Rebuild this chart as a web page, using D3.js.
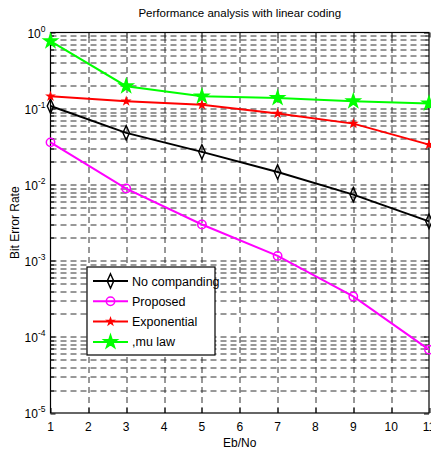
<!DOCTYPE html>
<html>
<head>
<meta charset="utf-8">
<script src="https://cdn.jsdelivr.net/npm/d3@7"></script>
<style>
  body { margin: 0; background: #fff; }
  text { font-family: "Liberation Sans", Arial, sans-serif; }
</style>
</head>
<body>
<div id="chart"></div>
<script>
const ebno = [1, 3, 5, 7, 9, 11];
const noCompanding = [0.108, 0.048, 0.027, 0.0147, 0.0074, 0.0033];
const proposed = [0.036, 0.0089, 0.0030, 0.00116, 0.00034, 0.000068];
const exponential = [0.145, 0.125, 0.112, 0.086, 0.0635, 0.0336];
const muLaw = [0.77, 0.197, 0.145, 0.138, 0.125, 0.117];
const seriesNames = ["No companding", "Proposed", "Exponential", ",mu law"];
const xTicks = [1, 2, 3, 4, 5, 6, 7, 8, 9, 10, 11];
const yDecades = [0, -1, -2, -3, -4, -5];

const W = 431, H = 451;
const margin = {top: 32.5, right: 2, bottom: 38, left: 50.5};
const width = W - margin.left - margin.right,
    height = H - margin.top - margin.bottom;

const svg = d3.select("#chart").append("svg")
    .attr("width", W)
    .attr("height", H);

const g = svg.append("g")
    .attr("transform", "translate(" + margin.left + "," + margin.top + ")");

const x = d3.scaleLinear().domain([1, 11]).range([0, width]);
const y = d3.scaleLog().domain([1e-5, 1]).range([height, 0]);

// minor + major log values
const yAll = [];
for (let e = -5; e < 0; e++) {
  for (let m = 1; m < 10; m++) yAll.push(m * Math.pow(10, e));
}
yAll.push(1);

// grid
const grid = g.append("g").attr("class", "grid");
grid.selectAll("line.h")
  .data(yAll.filter(v => v > 1e-5 && v < 1))
  .enter().append("line")
    .attr("x1", 0).attr("x2", width)
    .attr("y1", d => Math.round(y(d)) + 0.5).attr("y2", d => Math.round(y(d)) + 0.5)
    .attr("stroke", "#333").attr("stroke-width", 1)
    .attr("stroke-dasharray", "6,4");
grid.selectAll("line.v")
  .data(xTicks.slice(1, -1))
  .enter().append("line")
    .attr("x1", d => Math.round(x(d)) + 0.5).attr("x2", d => Math.round(x(d)) + 0.5)
    .attr("y1", height).attr("y2", 0)
    .attr("stroke", "#333").attr("stroke-width", 1)
    .attr("stroke-dasharray", "6,4");

// inward ticks
const ticks = g.append("g");
yAll.forEach(v => {
  const major = Math.abs(Math.log10(v) - Math.round(Math.log10(v))) < 1e-9;
  const len = major ? 5 : 3.5;
  const yy = Math.round(y(v)) + 0.5;
  ticks.append("line").attr("x1", 0).attr("x2", len).attr("y1", yy).attr("y2", yy).attr("stroke", "#000");
  ticks.append("line").attr("x1", width - len).attr("x2", width).attr("y1", yy).attr("y2", yy).attr("stroke", "#000");
});
xTicks.forEach(v => {
  const xx = Math.round(x(v)) + 0.5;
  ticks.append("line").attr("x1", xx).attr("x2", xx).attr("y1", height).attr("y2", height - 5).attr("stroke", "#000");
  ticks.append("line").attr("x1", xx).attr("x2", xx).attr("y1", 0).attr("y2", 5).attr("stroke", "#000");
});

// box
g.append("rect")
  .attr("x", 0).attr("y", 0).attr("width", width).attr("height", height)
  .attr("fill", "none").attr("stroke", "#000").attr("stroke-width", 1.2);

// x tick labels
g.append("g").selectAll("text")
  .data(xTicks)
  .enter().append("text")
    .attr("x", d => x(d))
    .attr("y", height + 18)
    .attr("text-anchor", "middle")
    .style("font-size", "12px")
    .text(d => d);

// y tick labels
const yl = g.append("g").selectAll("text")
  .data(yDecades)
  .enter().append("text")
    .attr("x", -5)
    .attr("y", d => y(Math.pow(10, d)) + 5)
    .attr("text-anchor", "end")
    .style("font-size", "12px");
yl.append("tspan").text("10");
yl.append("tspan").attr("dy", -6).style("font-size", "8.5px").text(d => d);

// titles
svg.append("text")
  .attr("x", margin.left + width / 2)
  .attr("y", 17)
  .attr("text-anchor", "middle")
  .style("font-size", "11.5px")
  .text("Performance analysis with linear coding");

svg.append("text")
  .attr("x", margin.left + width / 2)
  .attr("y", H - 4)
  .attr("text-anchor", "middle")
  .style("font-size", "12px")
  .text("Eb/No");

svg.append("text")
  .attr("transform", "translate(19," + (margin.top + height / 2) + ") rotate(-90)")
  .attr("text-anchor", "middle")
  .style("font-size", "12px")
  .text("Bit Error Rate");

// series
const series = [
  {name: seriesNames[0], values: noCompanding, color: "#000000", symbol: d3.symbolDiamond, size: 45, fill: "none"},
  {name: seriesNames[1], values: proposed, color: "#ff00ff", symbol: d3.symbolCircle, size: 55, fill: "none"},
  {name: seriesNames[2], values: exponential, color: "#ff0000", symbol: d3.symbolStar, size: 12, fill: "#ff0000"},
  {name: seriesNames[3], values: muLaw, color: "#00ff00", symbol: d3.symbolStar, size: 55, fill: "#00ff00"}
];

const line = d3.line().x((d, i) => x(ebno[i])).y(d => y(d));

series.forEach(s => {
  g.append("path")
    .datum(s.values)
    .attr("d", line)
    .attr("fill", "none")
    .attr("stroke", s.color)
    .attr("stroke-width", 2);
  g.append("g").selectAll("path")
    .data(s.values)
    .enter().append("path")
      .attr("d", d3.symbol().type(s.symbol).size(s.size))
      .attr("transform", (d, i) => "translate(" + x(ebno[i]) + "," + y(d) + ")" + (s.symbol === d3.symbolDiamond ? " scale(0.9,1.15)" : ""))
      .attr("fill", s.fill)
      .attr("stroke", s.color)
      .attr("stroke-width", 1.5);
});

// legend
const lg = svg.append("g").attr("transform", "translate(87,267)");
lg.append("rect")
  .attr("x", 0).attr("y", 0).attr("width", 128).attr("height", 88)
  .attr("fill", "#fff").attr("stroke", "#000").attr("stroke-width", 1.2);
series.forEach((s, i) => {
  const yy = 14 + i * 20.3;
  lg.append("line").attr("x1", 6).attr("x2", 41).attr("y1", yy).attr("y2", yy)
    .attr("stroke", s.color).attr("stroke-width", 2);
  lg.append("path")
    .attr("d", d3.symbol().type(s.symbol).size(s.size))
    .attr("transform", "translate(23.5," + yy + ")" + (s.symbol === d3.symbolDiamond ? " scale(0.9,1.15)" : ""))
    .attr("fill", s.fill).attr("stroke", s.color).attr("stroke-width", 1.5);
  lg.append("text")
    .attr("x", 45).attr("y", yy + 4.5)
    .style("font-size", "12.5px")
    .text(s.name);
});
</script>
</body>
</html>
